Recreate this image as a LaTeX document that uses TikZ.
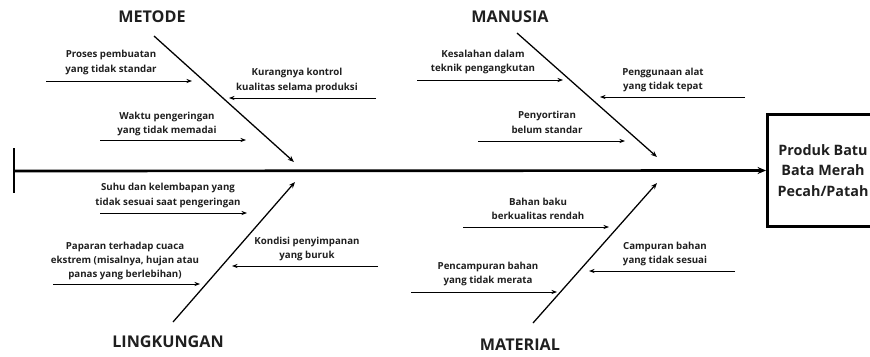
\documentclass[tikz,border=0pt]{standalone}
\usepackage{fontspec}
\setmainfont{Open Sans}
\usetikzlibrary{arrows.meta}
\tikzset{
	cause/.style={font=\fontsize{6.9}{10.2}\selectfont\bfseries, text=black!88, align=center, inner sep=0pt},
	group/.style={font=\fontsize{11.5}{13}\selectfont\bfseries, text=black!88, inner sep=0pt},
	bone/.style={line width=0.9pt, -{Stealth[length=4.5pt,width=3.5pt]}},
	twig/.style={line width=0.7pt, -{Stealth[length=4pt,width=3pt]}}
}

\begin{document}
\begin{tikzpicture}[x=0.025cm, y=-0.025cm]
			\useasboundingbox (0,0) rectangle (870,356);
			\clip (0,0) rectangle (870,356);
			%%%%% START %%%%%
			
			% spine and effect box
			\coordinate (tail) at (14,171);
			\coordinate (tickup) at (14,148);
			\coordinate (tickdown) at (14,193);
			\node[draw, line width=2pt, anchor=west, minimum width=2.78cm, minimum height=2.78cm,
				font=\fontsize{10.2}{14.8}\selectfont\bfseries, text=black!88, align=center] (effect) at (766,170.5)
				{Produk Batu\\Bata Merah\\Pecah/Patah};
			\draw[line width=1.7pt] (tickup) -- (tickdown);
			\draw[line width=1.9pt, -{Stealth[length=6pt,width=5pt]}] (tail) -- (effect.west);
			
			% METODE
			\node[group] (metode) at (152,17) {METODE};
			\coordinate (metA) at (154,36);
			\coordinate (metB) at (294,162);
			\draw[bone] (metA) -- (metB);
			\node[cause] (proses) at (111,62.5) {Proses pembuatan\\yang tidak standar};
			\coordinate (prosesA) at (46,81);
			\coordinate (prosesB) at (192,81);
			\draw[twig] (prosesA) -- (prosesB);
			\node[cause] (kontrol) at (297,80.5) {Kurangnya kontrol\\kualitas selama produksi};
			\coordinate (kontrolA) at (376,98);
			\coordinate (kontrolB) at (229,98);
			\draw[twig] (kontrolA) -- (kontrolB);
			\node[cause] (waktu) at (167,124) {Waktu pengeringan\\yang tidak memadai};
			\coordinate (waktuA) at (100,140);
			\coordinate (waktuB) at (246,140);
			\draw[twig] (waktuA) -- (waktuB);
			
			% MANUSIA
			\node[group] (manusia) at (510,17) {MANUSIA};
			\coordinate (manA) at (517,33);
			\coordinate (manB) at (657,157);
			\draw[bone] (manA) -- (manB);
			\node[cause] (salah) at (483,62) {Kesalahan dalam\\teknik pengangkutan};
			\coordinate (salahA) at (417,80);
			\coordinate (salahB) at (563,80);
			\draw[twig] (salahA) -- (salahB);
			\node[cause] (alat) at (663,80) {Penggunaan alat\\yang tidak tepat};
			\coordinate (alatA) at (745,97);
			\coordinate (alatB) at (600,97);
			\draw[twig] (alatA) -- (alatB);
			\node[cause] (sortir) at (547,122.5) {Penyortiran\\belum standar};
			\coordinate (sortirA) at (478,141);
			\coordinate (sortirB) at (625,141);
			\draw[twig] (sortirA) -- (sortirB);
			
			% LINGKUNGAN
			\node[group] (lingkungan) at (168,342) {LINGKUNGAN};
			\coordinate (linA) at (173,322);
			\coordinate (linB) at (295,182);
			\draw[bone] (linA) -- (linB);
			\node[cause] (suhu) at (168,195.5) {Suhu dan kelembapan yang\\tidak sesuai saat pengeringan};
			\coordinate (suhuA) at (100,213);
			\coordinate (suhuB) at (247,213);
			\draw[twig] (suhuA) -- (suhuB);
			\node[cause] (cuaca) at (125,261) {Paparan terhadap cuaca\\ekstrem (misalnya, hujan atau\\panas yang berlebihan)};
			\coordinate (cuacaA) at (53,284);
			\coordinate (cuacaB) at (200,284);
			\draw[twig] (cuacaA) -- (cuacaB);
			\node[cause] (simpan) at (307,249) {Kondisi penyimpanan\\yang buruk};
			\coordinate (simpanA) at (378,266);
			\coordinate (simpanB) at (232,266);
			\draw[twig] (simpanA) -- (simpanB);
			
			% MATERIAL
			\node[group] (material) at (520,345) {MATERIAL};
			\coordinate (matA) at (533,323);
			\coordinate (matB) at (657,183);
			\draw[bone] (matA) -- (matB);
			\node[cause] (baku) at (538,209) {Bahan baku\\berkualitas rendah};
			\coordinate (bakuA) at (463,227);
			\coordinate (bakuB) at (609,227);
			\draw[twig] (bakuA) -- (bakuB);
			\node[cause] (campur) at (665,254) {Campuran bahan\\yang tidak sesuai};
			\coordinate (campurA) at (735,271);
			\coordinate (campurB) at (589,271);
			\draw[twig] (campurA) -- (campurB);
			\node[cause] (merata) at (488,274) {Pencampuran bahan\\yang tidak merata};
			\coordinate (merataA) at (411,292);
			\coordinate (merataB) at (557,292);
			\draw[twig] (merataA) -- (merataB);
			
			%%%%% END %%%%%
\end{tikzpicture}
\end{document}
